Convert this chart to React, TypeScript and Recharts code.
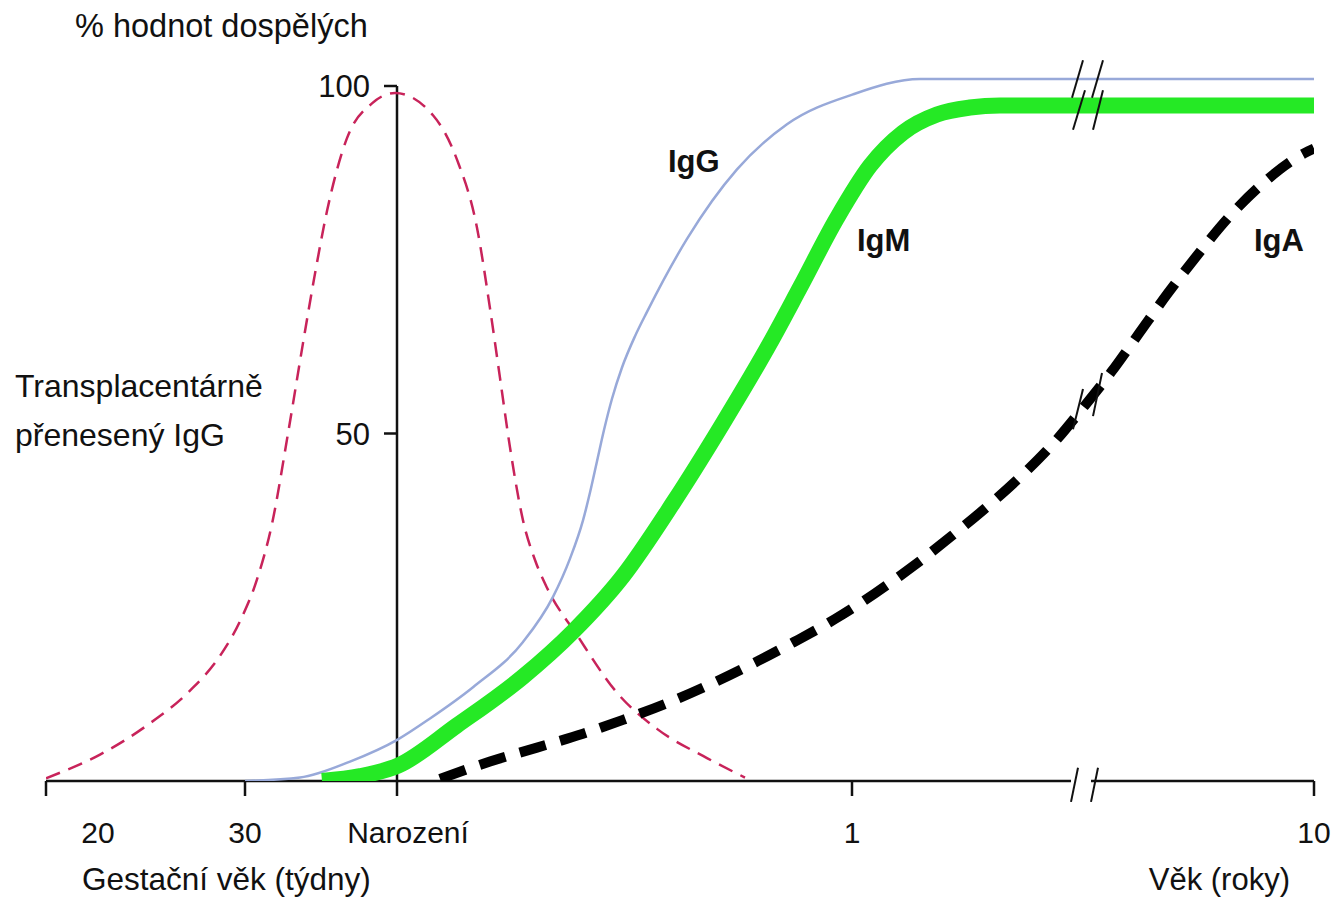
import { LineChart, Line, XAxis, YAxis, ReferenceLine } from 'recharts'

// x positions are axis units: 20 týdnů = 0 … 10 let = 126.8 (axis is not linear in time)
const xTicks = [0, 19.9, 35.1, 80.6, 126.8]
const xTickLabels = ['20', '30', 'Narození', '1', '10']
const yTicks = [50, 100]
const birthPos = 35.1
const axisBreak = [102.5, 104.5]

// [position, % hodnot dospělých]
const transplacentalIgG: [number, number][] = [
  [0, 0.4], [5.4, 3.8], [10.1, 8], [14.4, 13], [17.4, 18], [19.4, 23],
  [21.1, 29], [22.6, 37], [24.2, 50], [25.7, 63], [26.9, 73], [28.1, 82],
  [30.1, 92.5], [32.6, 97.5], [34.9, 99], [38.7, 95.8], [41.1, 89.4],
  [43.1, 79.6], [44.4, 68], [45.4, 58], [46.4, 48], [47.7, 37.5], [48.9, 31.8],
  [50.1, 27.8], [53.1, 21], [57.1, 12.7], [61.1, 7.5], [66.1, 3.3], [69.9, 0.5],
]
const igG: [number, number][] = [
  [19.9, 0], [25.4, 0.5], [30.4, 2.8], [35.2, 6], [38.4, 9], [42.7, 13.5],
  [47.7, 20], [50.7, 26.5], [52.4, 32], [53.7, 37.5], [54.4, 41.5], [55.1, 46],
  [55.8, 50.5], [56.6, 55], [57.6, 59.5], [58.9, 64], [60.1, 67.5], [64.1, 78],
  [69.1, 88], [74.1, 94.5], [80.7, 98.8], [87.4, 101], [126.8, 101],
]
const igM: [number, number][] = [
  [27.6, 0], [31.4, 0.7], [35.2, 2.2], [41.1, 8], [47.7, 15], [52.7, 21.5],
  [57.7, 29.5], [62.7, 40], [67.7, 51.5], [72.4, 63], [75.4, 71], [79.1, 81],
  [82.4, 88.5], [85.7, 93.3], [89.1, 95.9], [92.4, 96.9], [95.4, 97.2],
  [126.8, 97.2],
]
const igA: [number, number][] = [
  [39.4, 0.3], [44.4, 2.8], [49.1, 4.8], [53.7, 6.8], [57.7, 8.8], [62.1, 11.2],
  [66.4, 13.9], [70.7, 16.9], [74.8, 20], [78.9, 23.3], [82.9, 27], [86.8, 31],
  [90.6, 35.3], [94.3, 39.7], [97.9, 44.4], [101, 49], [103.7, 53.7],
  [106.5, 58.8], [109.3, 64.4], [112.2, 70.2], [115.1, 75.6], [118.2, 81],
  [121.7, 86], [125.8, 90.3], [126.8, 91],
]

// break marks "//" (pairs of end points)
const breakMarks: [number, number, number, number][] = [
  [102.5, -3.0, 103.2, 1.9], [104.5, -3.0, 105.2, 1.9],
  [102.6, 98.3, 103.7, 103.7], [104.6, 98.3, 105.7, 103.7],
  [102.7, 93.7, 103.9, 99.4], [104.7, 93.7, 105.7, 99.4],
  [102.7, 50.6, 103.7, 56.4], [104.7, 52.5, 105.6, 58.7],
]

const toRows = (pts: [number, number][]) => pts.map(([x, v]) => ({ x, v }))

const FONT = '"Liberation Sans", Arial, Helvetica, sans-serif'
const INK = '#111'

function XTick(props: any) {
  const { x, y, payload } = props
  const i = xTicks.indexOf(payload.value)
  const label = i >= 0 ? xTickLabels[i] : String(payload.value)
  const shift = label === '20' ? 52 : label === 'Narození' ? 11 : 0
  return (
    <text x={x + shift} y={y + 45} textAnchor="middle" fontSize={30} fontFamily={FONT} fill={INK}>
      {label}
    </text>
  )
}

export default function App() {
  return (
    <div style={{ position: 'absolute', left: 0, top: 0, width: 1340, height: 898, background: '#fff' }}>
      <LineChart
        width={1340}
        height={898}
        margin={{ top: 51.25, right: 26, bottom: 87, left: 46 }}
      >
        <XAxis
          type="number"
          dataKey="x"
          domain={[0, 126.8]}
          ticks={xTicks}
          allowDataOverflow
          axisLine={false}
          tickLine={{ stroke: INK, strokeWidth: 2.5 }}
          tickSize={15}
          height={30}
          tick={<XTick />}
        />
        <YAxis type="number" domain={[0, 105]} allowDataOverflow hide />

        {/* x axis with break */}
        <ReferenceLine
          segment={[{ x: 0, y: 0 }, { x: axisBreak[0], y: 0 }]}
          stroke={INK}
          strokeWidth={2.5}
          ifOverflow="visible"
        />
        <ReferenceLine
          segment={[{ x: axisBreak[1], y: 0 }, { x: 126.8, y: 0 }]}
          stroke={INK}
          strokeWidth={2.5}
          ifOverflow="visible"
        />
        {/* y axis at birth */}
        <ReferenceLine
          segment={[{ x: birthPos, y: 0 }, { x: birthPos, y: 100 }]}
          stroke={INK}
          strokeWidth={2.5}
          ifOverflow="visible"
        />
        {yTicks.map((t) => (
          <ReferenceLine
            key={t}
            segment={[{ x: birthPos - 1.3, y: t }, { x: birthPos, y: t }]}
            stroke={INK}
            strokeWidth={2.5}
            ifOverflow="visible"
            label={{
              value: String(t),
              position: 'left',
              offset: 14,
              fontSize: 31,
              fontFamily: FONT,
              fill: INK,
            }}
          />
        ))}

        <Line
          data={toRows(transplacentalIgG)}
          dataKey="v"
          type="monotone"
          stroke="#c8235a"
          strokeWidth={2.5}
          strokeDasharray="15 9"
          dot={false}
          activeDot={false}
          isAnimationActive={false}
        />
        <Line
          data={toRows(igG)}
          dataKey="v"
          type="monotone"
          stroke="#98a9d9"
          strokeWidth={2.5}
          dot={false}
          activeDot={false}
          isAnimationActive={false}
        />
        <Line
          data={toRows(igM)}
          dataKey="v"
          type="monotone"
          stroke="#25e925"
          strokeWidth={16}
          dot={false}
          activeDot={false}
          isAnimationActive={false}
        />
        <Line
          data={toRows(igA)}
          dataKey="v"
          type="monotone"
          stroke="#000"
          strokeWidth={10}
          strokeDasharray="27 15"
          dot={false}
          activeDot={false}
          isAnimationActive={false}
        />

        {breakMarks.map(([x1, y1, x2, y2], i) => (
          <ReferenceLine
            key={`b${i}`}
            segment={[{ x: x1, y: y1 }, { x: x2, y: y2 }]}
            stroke={INK}
            strokeWidth={2}
            ifOverflow="visible"
          />
        ))}
      </LineChart>

      <svg
        width={1340}
        height={898}
        style={{ position: 'absolute', left: 0, top: 0, pointerEvents: 'none' }}
        fontFamily={FONT}
        fill={INK}
      >
        <text x={75} y={37} fontSize={32.5}>% hodnot dospělých</text>
        <text x={15} y={397} fontSize={32}>Transplacentárně</text>
        <text x={15} y={446} fontSize={32}>přenesený IgG</text>
        <text x={668} y={172} fontSize={31} fontWeight="bold">IgG</text>
        <text x={857} y={251} fontSize={31} fontWeight="bold">IgM</text>
        <text x={1254} y={251} fontSize={31} fontWeight="bold">IgA</text>
        <text x={82} y={890} fontSize={31.5}>Gestační věk (týdny)</text>
        <text x={1290} y={890} fontSize={31} textAnchor="end">Věk (roky)</text>
      </svg>
    </div>
  )
}
